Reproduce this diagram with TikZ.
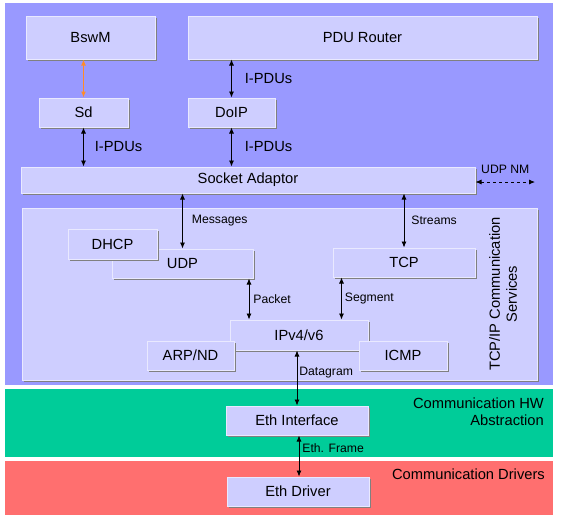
\documentclass[tikz,border=0pt]{standalone}
\usepackage{fontspec}
\setmainfont{Liberation Sans}
\usepackage{tikz}
\usetikzlibrary{arrows.meta, shadows}
\tikzset{>={Latex[length=6pt, width=5pt]}}
\definecolor{layerbg}{RGB}{153,153,255}
\definecolor{boxbg}{RGB}{206,206,255}
\definecolor{hwbg}{RGB}{0,204,153}
\definecolor{drvbg}{RGB}{255,111,111}
\definecolor{bsworange}{RGB}{255,140,40}
\tikzset{
  swc/.style = {fill=boxbg, draw=white!55!boxbg, line width=1pt, inner sep=0pt,
    font=\fontsize{14.7}{17}\selectfont,
    drop shadow={shadow xshift=1.5pt, shadow yshift=-1.5pt, fill=black!50, draw=none, opacity=1}},
  plbl/.style = {font=\fontsize{14.7}{17}\selectfont, inner sep=1pt},
  lbl/.style = {font=\fontsize{12.2}{14}\selectfont, inner sep=1pt},
  bus/.style = {<->, line width=0.8pt}
}

\begin{document}
\begin{tikzpicture}[x=1pt, y=-1pt]
\useasboundingbox (0,0) rectangle (561,523);
% layers
\fill[layerbg] (5,3) rectangle (553,385);
\fill[hwbg] (5,389) rectangle (553,457);
\fill[drvbg] (5,461) rectangle (553,515);

\node[swc, minimum width=129pt, minimum height=43pt] (bswm) at (90.5,37.5) {BswM};
\node[swc, minimum width=349pt, minimum height=43pt] (pdur) at (362.5,37.5) {PDU Router};
\node[swc, minimum width=89pt, minimum height=29pt] (sd) at (83.5,112.5) {Sd};
\node[swc, minimum width=87pt, minimum height=29pt] (doip) at (231.5,112.5) {DoIP};
\node[swc, minimum width=454pt, minimum height=26pt] (socket) at (248,180) {Socket Adaptor};

\node[swc, minimum width=515pt, minimum height=172pt] (tcpip) at (279.5,294) {};
\node[plbl, rotate=90, align=center] (tcpiplbl) at (503,294) {TCP/IP Communication\\Services};

\node[swc, minimum width=141pt, minimum height=29pt] (udp) at (182.5,263.5) {UDP};
\node[swc, minimum width=89pt, minimum height=30pt] (dhcp) at (112.5,244) {DHCP};
\node[swc, minimum width=142pt, minimum height=29pt] (tcp) at (404,262.5) {TCP};
\node[swc, minimum width=138pt, minimum height=30pt] (ipv4) at (299,335) {IPv4/v6};
\node[swc, minimum width=87pt, minimum height=29pt] (arp) at (190.5,355.5) {ARP/ND};
\node[swc, minimum width=88pt, minimum height=29pt] (icmp) at (403,355.5) {ICMP};

\node[swc, minimum width=142pt, minimum height=29pt] (ethif) at (297,420.5) {Eth Interface};
\node[swc, minimum width=142pt, minimum height=29pt] (ethdrv) at (298,491.5) {Eth Driver};

\node[plbl, align=right, anchor=east] (hwlbl) at (545,412) {Communication HW\\Abstraction};
\node[plbl, anchor=east] (drvlbl) at (546,474) {Communication Drivers};

% connections
\draw[<->, draw=bsworange, fill=bsworange, line width=1.2pt] (sd.north |- bswm.south) -- (sd.north);
\draw[bus] (sd.south) -- node[plbl, right, xshift=10pt] {I-PDUs} (sd.south |- socket.north);
\draw[bus] (doip.north |- pdur.south) -- node[plbl, right, xshift=12pt] {I-PDUs} (doip.north);
\draw[bus] (doip.south) -- node[plbl, right, xshift=12pt] {I-PDUs} (doip.south |- socket.north);
\coordinate (udpnm) at (535,182);
\draw[bus, dashed] (socket.east |- udpnm) -- node[lbl, above, yshift=7pt] {UDP NM} (udpnm);

\draw[bus] (udp.north |- socket.south) -- node[lbl, right, xshift=8pt] {Messages} (udp.north);
\draw[bus] (tcp.north |- socket.south) -- node[lbl, right, xshift=6pt] {Streams} (tcp.north);
\draw[bus] ([xshift=-4.5pt]udp.south east) -- node[lbl, right, xshift=3pt] {Packet}
  ([xshift=-4.5pt]udp.south east |- ipv4.north);
\draw[bus] ([xshift=9pt]tcp.south west) -- node[lbl, right, xshift=2pt] {Segment}
  ([xshift=9pt]tcp.south west |- ipv4.north);
\draw[bus] (ethif.north |- ipv4.south) -- node[lbl, right, pos=0.4, xshift=1pt] {Datagram} (ethif.north);
\draw[bus] ([xshift=2pt]ethif.south) -- node[lbl, right, pos=0.3, xshift=2pt] {Eth. Frame}
  ([xshift=2pt]ethif.south |- ethdrv.north);
\end{tikzpicture}
\end{document}
